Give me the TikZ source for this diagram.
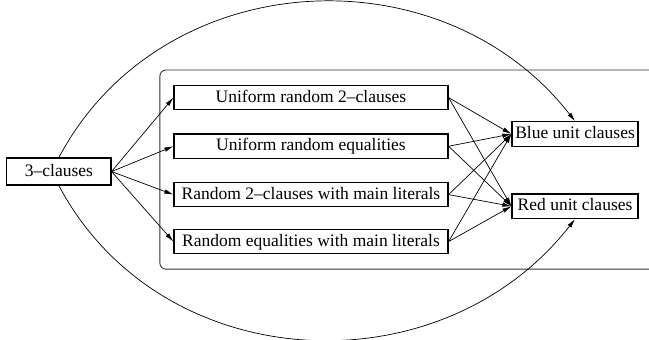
\documentclass[tikz,border=0pt]{standalone}
\usepackage{fontspec}
\setmainfont{Liberation Serif}
\usetikzlibrary{arrows.meta,positioning}

\begin{document}
\begin{tikzpicture}[
    >={Latex[length=9pt,width=4.5pt]},
    box/.style={rectangle, draw=black, line width=1.2pt, inner sep=3pt,
                text height=13pt, text depth=4pt, text centered,
                font=\fontsize{17.5}{21}\selectfont},
    midbox/.style={box, minimum width=9.63cm, minimum height=0.86cm},
    unitbox/.style={box, minimum width=4.43cm, minimum height=0.86cm},
    flow/.style={->, line width=0.7pt}
]
\useasboundingbox (0,0) rectangle (22.81,11.92);

% Group frame (runs off the right edge)
\draw[line width=0.9pt, black!80, rounded corners=6pt] (5.62,2.46) rectangle (24,9.46);

% Source
\node[box, minimum width=3.66cm, minimum height=0.95cm] (clauses3) at (2.07,5.89) {3--clauses};

% Random parts
\node[midbox] (unif2) at (10.93,8.49) {Uniform random 2--clauses};
\node[midbox] (unifeq) at (10.93,6.78) {Uniform random equalities};
\node[midbox] (main2) at (10.93,5.08) {Random 2--clauses with main literals};
\node[midbox] (maineq) at (10.93,3.43) {Random equalities with main literals};

% Unit clauses
\node[unitbox] (blue) at (20.21,7.21) {Blue unit clauses};
\node[unitbox] (red) at (20.21,4.67) {Red unit clauses};

% Arrows
\foreach \part in {unif2, unifeq, main2, maineq} {
    \draw[flow] (clauses3.east) -- (\part.west);
    \draw[flow] (\part.east) -- (blue.west);
    \draw[flow] (\part.east) -- (red.west);
}

\draw[flow] (clauses3.north) to[out=62, in=128, looseness=1.08] (blue.north);
\draw[flow] (clauses3.south) to[out=-62, in=-128, looseness=1.08] (red.south);

\end{tikzpicture}
\end{document}
